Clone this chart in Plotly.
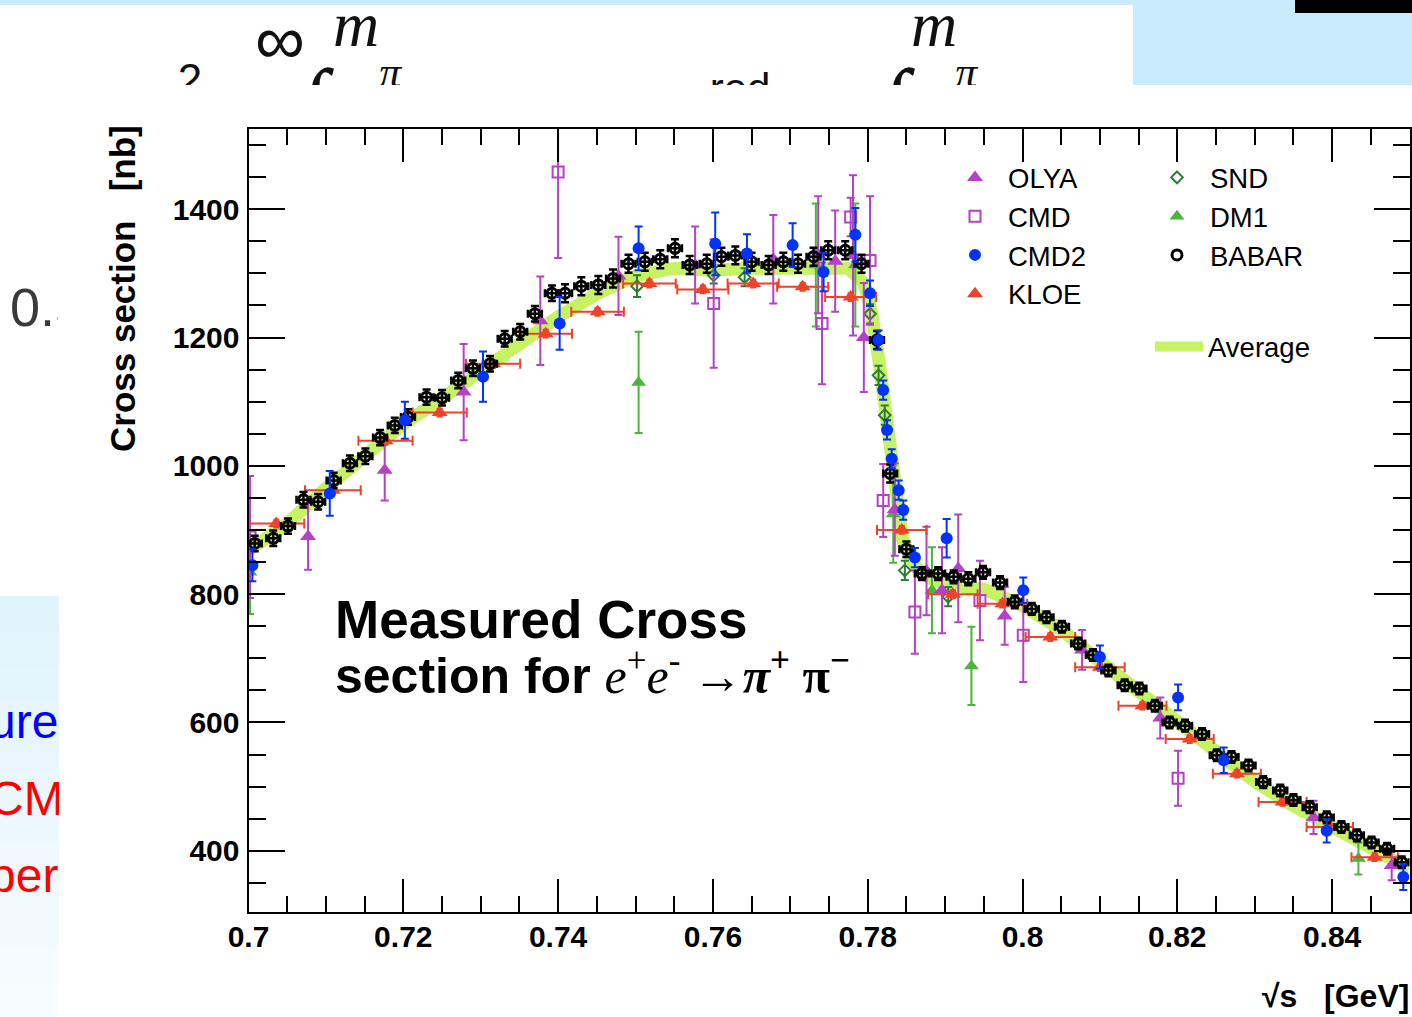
import plotly.graph_objects as go

W, H = 1412, 1017


def fx(px):
    return px / W


def fy(py):
    return 1 - py / H


# ---------------- data ----------------
avg_x = [0.700, 0.705, 0.710, 0.715, 0.720, 0.725, 0.730, 0.735, 0.740, 0.745, 0.750,
         0.755, 0.760, 0.765, 0.770, 0.775, 0.7775, 0.7795, 0.7805, 0.7815, 0.7825,
         0.7835, 0.7845, 0.786, 0.788, 0.790, 0.795, 0.800, 0.805, 0.810, 0.815,
         0.820, 0.825, 0.830, 0.835, 0.840, 0.845, 0.850]
avg_y = [868, 910, 965, 1012, 1065, 1105, 1148, 1192, 1232, 1268, 1296,
         1308, 1305, 1308, 1308, 1312, 1308, 1285, 1240, 1160, 1060,
         960, 885, 845, 825, 815, 808, 782, 745, 695, 648,
         600, 555, 508, 470, 436, 404, 372]

olya_x = [0.7077, 0.7176, 0.7278, 0.7377, 0.7478, 0.7577, 0.7678, 0.7736, 0.7758, 0.7781,
          0.7795, 0.7835, 0.7876, 0.7896, 0.7917, 0.7977, 0.8077, 0.8178, 0.8376, 0.8477]
olya_y = [890, 993, 1115, 1226, 1296, 1313, 1322, 1329, 1319, 1328,
          1200, 932, 836, 806, 840, 766, 713, 607, 452, 377]
olya_err = [52, 47, 75, 69, 61, 60, 69, 91, 79, 125,
            85, 72, 69, 67, 84, 45, 31, 32, 26, 23]

cmd_x = [0.7002, 0.7400, 0.7601, 0.7741, 0.7778, 0.7803, 0.7820, 0.7861, 0.7945, 0.8001, 0.8201]
cmd_y = [889, 1458, 1253, 1222, 1388, 1320, 946, 772, 790, 736, 513]
cmd_err = [95, 134, 100, 95, 30, 100, 57, 65, 62, 73, 43]

cmd2_x = [0.7005, 0.7105, 0.7202, 0.7303, 0.7402, 0.7504, 0.7603, 0.7644, 0.7703, 0.7743,
          0.7784, 0.7803, 0.7814, 0.7820, 0.7825, 0.7831, 0.7840, 0.7846, 0.7861, 0.7902,
          0.8001, 0.8100, 0.8201, 0.8260, 0.8393, 0.8492]
cmd2_y = [845, 957, 1071, 1139, 1222, 1339, 1346, 1331, 1344, 1302,
          1360, 1269, 1196, 1118, 1056, 1011, 962, 931, 857, 887,
          806, 702, 639, 541, 431, 359]
cmd2_err = [25, 35, 29, 39, 41, 34, 49, 30, 34, 30,
            42, 20, 15, 15, 15, 15, 15, 15, 15, 30,
            20, 18, 20, 20, 18, 20]

kloe_x = [0.7036, 0.7109, 0.7177, 0.7247, 0.7316, 0.7384, 0.7451, 0.7518, 0.7587, 0.7652,
          0.7716, 0.7778, 0.7844, 0.7910, 0.7974, 0.8036, 0.8100, 0.8155, 0.8216, 0.8277,
          0.8336, 0.8397, 0.8455]
kloe_y = [910, 962, 1039, 1083, 1159, 1206, 1240, 1284, 1275, 1284,
          1279, 1263, 900, 800, 785, 733, 686, 626, 574, 520,
          476, 437, 390]
kloe_xerr = [0.0036, 0.0036, 0.0035, 0.0035, 0.0035, 0.0034, 0.0034, 0.0034, 0.0033, 0.0033,
             0.0033, 0.0033, 0.0032, 0.0032, 0.0032, 0.0032, 0.0032, 0.0031, 0.0031, 0.0031,
             0.0031, 0.0030, 0.0030]
kloe_yerr = [6, 6, 6, 6, 6, 6, 6, 6, 6, 6,
             6, 6, 6, 6, 6, 6, 6, 6, 6, 6,
             6, 6, 6]

dm1_x = [0.7002, 0.7504, 0.7733, 0.7784, 0.7833, 0.7883, 0.7934, 0.8434]
dm1_y = [834, 1130, 1313, 1313, 925, 806, 688, 388]
dm1_err = [65, 79, 96, 96, 76, 67, 61, 25]

snd_x = [0.7502, 0.7601, 0.7641, 0.7803, 0.7814, 0.7822, 0.7848, 0.7904]
snd_y = [1280, 1297, 1294, 1237, 1141, 1079, 837, 796]
snd_err = [17, 13, 14, 15, 15, 15, 15, 15]

babar_x = [0.7008, 0.7032, 0.7051, 0.7071, 0.7090, 0.7110, 0.7131, 0.7151, 0.7170, 0.7189,
           0.7206, 0.7230, 0.7250, 0.7271, 0.7290, 0.7312, 0.7331, 0.7351, 0.7370, 0.7392,
           0.7409, 0.7430, 0.7452, 0.7471, 0.7491, 0.7512, 0.7532, 0.7551, 0.7570, 0.7592,
           0.7611, 0.7629, 0.7650, 0.7672, 0.7691, 0.7710, 0.7730, 0.7749, 0.7771, 0.7792,
           0.7812, 0.7829, 0.7850, 0.7870, 0.7891, 0.7911, 0.7930, 0.7949, 0.7971, 0.7990,
           0.8012, 0.8031, 0.8051, 0.8072, 0.8091, 0.8111, 0.8132, 0.8151, 0.8171, 0.8190,
           0.8210, 0.8232, 0.8251, 0.8270, 0.8292, 0.8311, 0.8333, 0.8350, 0.8371, 0.8393,
           0.8412, 0.8432, 0.8451, 0.8471, 0.8490]
babar_y = [879, 887, 906, 947, 944, 977, 1004, 1015, 1044, 1063,
           1076, 1107, 1106, 1133, 1152, 1159, 1198, 1209, 1237, 1269,
           1269, 1280, 1282, 1292, 1315, 1318, 1322, 1339, 1313, 1315,
           1326, 1328, 1318, 1313, 1318, 1315, 1326, 1336, 1336, 1315,
           1196, 988, 870, 832, 832, 827, 824, 834, 818, 788,
           777, 764, 749, 723, 705, 681, 658, 653, 626, 600,
           595, 582, 549, 546, 533, 507, 494, 479, 468, 452,
           437, 424, 413, 403, 382]
babar_err = [12, 12, 12, 12, 12, 12, 12, 12, 12, 12,
             12, 12, 12, 12, 12, 12, 12, 12, 12, 12,
             14, 14, 14, 14, 14, 14, 14, 14, 14, 14,
             14, 14, 14, 14, 14, 14, 14, 14, 14, 14,
             14, 14, 12, 10, 10, 10, 10, 10, 10, 10,
             9, 9, 9, 9, 9, 9, 9, 9, 9, 9,
             9, 9, 9, 9, 9, 9, 9, 9, 9, 9,
             9, 9, 9, 9, 9]
babar_xerr = 0.0009

x_ticks = [0.70, 0.72, 0.74, 0.76, 0.78, 0.80, 0.82, 0.84]
x_tick_text = ["0.7", "0.72", "0.74", "0.76", "0.78", "0.8", "0.82", "0.84"]
y_ticks = [400, 600, 800, 1000, 1200, 1400]
y_tick_text = ["400", "600", "800", "1000", "1200", "1400"]

# ---------------- styles ----------------
PURPLE = "#B441C8"
BLUE = "#0033FF"
RED = "#EE4229"
GREEN = "#4CB43C"
DKGREEN = "#2E7D32"
BAND = "#C6F263"
SANS = "Liberation Sans, Arial, sans-serif"
SERIF = "Liberation Serif, Times New Roman, serif"

fig = go.Figure()

# Average band
fig.add_trace(go.Scatter(
    x=avg_x, y=avg_y, mode="lines", name="Average",
    line=dict(color=BAND, width=13), legend="legend3", hoverinfo="skip"))


def ebar(arr, color, width=4, thick=2):
    return dict(type="data", array=arr, color=color, thickness=thick, width=width, visible=True)


fig.add_trace(go.Scatter(
    x=dm1_x, y=dm1_y, mode="markers", name="DM1", legend="legend2", legendrank=2,
    marker=dict(symbol="triangle-up", size=13, color=GREEN),
    error_y=ebar(dm1_err, GREEN)))

fig.add_trace(go.Scatter(
    x=snd_x, y=snd_y, mode="markers", name="SND", legend="legend2", legendrank=1,
    marker=dict(symbol="diamond-open", size=9, color=DKGREEN, line=dict(width=2, color=DKGREEN)),
    error_y=ebar(snd_err, DKGREEN)))

fig.add_trace(go.Scatter(
    x=olya_x, y=olya_y, mode="markers", name="OLYA", legend="legend", legendrank=1,
    marker=dict(symbol="triangle-up", size=14, color=PURPLE),
    error_y=ebar(olya_err, PURPLE)))

fig.add_trace(go.Scatter(
    x=cmd_x, y=cmd_y, mode="markers", name="CMD", legend="legend", legendrank=2,
    marker=dict(symbol="square-open", size=11, color=PURPLE, line=dict(width=2, color=PURPLE)),
    error_y=ebar(cmd_err, PURPLE)))

fig.add_trace(go.Scatter(
    x=kloe_x, y=kloe_y, mode="markers", name="KLOE", legend="legend", legendrank=4,
    marker=dict(symbol="triangle-up", size=14, color=RED),
    error_x=ebar(kloe_xerr, RED, width=5),
    error_y=ebar(kloe_yerr, RED, width=3)))

fig.add_trace(go.Scatter(
    x=babar_x, y=babar_y, mode="markers", name="BABAR", legend="legend2", legendrank=3,
    marker=dict(symbol="circle-open", size=10, color="black", line=dict(width=3, color="black")),
    error_x=dict(type="constant", value=babar_xerr, color="black", thickness=2.5, width=4),
    error_y=ebar(babar_err, "black", width=4, thick=2.5)))

fig.add_trace(go.Scatter(
    x=cmd2_x, y=cmd2_y, mode="markers", name="CMD2", legend="legend", legendrank=3,
    marker=dict(symbol="circle", size=12, color=BLUE),
    error_y=ebar(cmd2_err, BLUE)))

# ---------------- clipped slide remnants (text) ----------------
top_txt = [
    ("2", 190, 84, 44, SANS, "#111111"),
    ("∞", 280, 46, 70, SANS, "#111111"),
    ("∫", 316, 112, 96, SERIF, "#111111"),
    ("<i>m</i>", 356, 30, 64, SERIF, "#111111"),
    ("<i>π</i>", 390, 76, 44, SERIF, "#111111"),
    ("red", 740, 92, 42, SANS, "#111111"),
    ("∫", 897, 112, 96, SERIF, "#111111"),
    ("<i>m</i>", 934, 30, 64, SERIF, "#111111"),
    ("<i>π</i>", 966, 76, 44, SERIF, "#111111"),
]
for t, px, py, sz, fam, col in top_txt:
    fig.add_trace(go.Scatter(
        x=[px], y=[py], mode="text", text=[t], textposition="middle center",
        textfont=dict(size=sz, family=fam, color=col), showlegend=False,
        hoverinfo="skip", xaxis="x2", yaxis="y2", cliponaxis=True))

fig.add_trace(go.Scatter(
    x=[10], y=[312], mode="text", text=["0.5"], textposition="middle right",
    textfont=dict(size=54, family=SANS, color="#3a3a3a"), showlegend=False,
    hoverinfo="skip", xaxis="x3", yaxis="y3", cliponaxis=True))

left_txt = [("ure", 726, "#0000FF"), ("CMD", 803, "#FF0000"), ("per", 880, "#FF0000")]
for t, py, col in left_txt:
    fig.add_trace(go.Scatter(
        x=[-11], y=[py], mode="text", text=[t], textposition="middle right",
        textfont=dict(size=48, family=SANS, color=col), showlegend=False,
        hoverinfo="skip", xaxis="x4", yaxis="y4", cliponaxis=True))

# ---------------- shapes (slide background pieces) ----------------
shapes = [
    dict(type="rect", xref="paper", yref="paper", x0=fx(0), x1=fx(W), y0=fy(5), y1=fy(0),
         fillcolor="#C9EBFC", line=dict(width=0), layer="below"),
    dict(type="rect", xref="paper", yref="paper", x0=fx(1133), x1=fx(W), y0=fy(85), y1=fy(0),
         fillcolor="#C9EBFC", line=dict(width=0), layer="below"),
    dict(type="rect", xref="paper", yref="paper", x0=fx(1295), x1=fx(W), y0=fy(13), y1=fy(0),
         fillcolor="black", line=dict(width=0), layer="below"),
]
c0 = (225, 243, 252)
c1 = (247, 252, 255)
nb = 12
top, bot = 596, 1017
for i in range(nb):
    f = i / (nb - 1)
    col = "rgb(%d,%d,%d)" % tuple(round(a + (b - a) * f) for a, b in zip(c0, c1))
    y0p = top + (bot - top) * i / nb
    y1p = top + (bot - top) * (i + 1) / nb
    shapes.append(dict(type="rect", xref="paper", yref="paper", x0=fx(0), x1=fx(59),
                       y0=fy(y1p + 1), y1=fy(y0p), fillcolor=col, line=dict(width=0), layer="below"))

# ---------------- annotations ----------------
annotations = [
    dict(xref="paper", yref="paper", x=fx(122), y=fy(289), xanchor="center", yanchor="middle",
         text="<b>Cross section   [nb]</b>", textangle=-90, showarrow=False,
         font=dict(family=SANS, size=35, color="black")),
    dict(xref="paper", yref="paper", x=fx(1411), y=fy(996), xanchor="right", yanchor="middle",
         text="<b>√s   [GeV]</b>", showarrow=False,
         font=dict(family=SANS, size=32, color="black")),
    dict(xref="paper", yref="paper", x=fx(333), y=fy(619), xanchor="left", yanchor="middle",
         align="left", showarrow=False,
         text="<b>Measured Cross</b>",
         font=dict(family=SANS, size=53, color="black")),
    dict(xref="paper", yref="paper", x=fx(333), y=fy(672), xanchor="left", yanchor="middle",
         align="left", showarrow=False,
         text=("<b>section for </b>"
               "<span style=\"font-family:Liberation Serif\"><i>e</i><sup>+</sup><i>e</i><sup>-</sup> "
               "<b>→<i>π</i><sup>+</sup> π<sup>−</sup></b></span>"),
         font=dict(family=SANS, size=50, color="black")),
]

axis_common = dict(
    showline=True, linecolor="black", linewidth=2, mirror="allticks",
    ticks="inside", tickwidth=2, tickcolor="black", showgrid=False, zeroline=False,
    tickfont=dict(family=SANS, size=30, color="black", weight="bold"), automargin=False,
)

legend_font = dict(family=SANS, size=27.5, color="black")
hidden = dict(visible=False, fixedrange=True, automargin=False, showgrid=False, zeroline=False)

fig.update_layout(
    width=W, height=H, margin=dict(l=0, r=0, t=0, b=0, pad=0, autoexpand=False),
    paper_bgcolor="white", plot_bgcolor="rgba(0,0,0,0)",
    xaxis=dict(domain=[fx(248.5), fx(1409.5)], range=[0.7, 0.85],
               tickvals=x_ticks, ticktext=x_tick_text, ticklen=33, ticklabelstandoff=-3,
               minor=dict(dtick=0.005, tick0=0.7, ticks="inside", ticklen=16, tickwidth=2,
                          tickcolor="black", showgrid=False),
               **axis_common),
    yaxis=dict(domain=[fy(911.7), fy(129)], range=[305, 1525],
               tickvals=y_ticks, ticktext=y_tick_text, ticklen=36, ticklabelstandoff=1,
               minor=dict(dtick=50, tick0=0, ticks="inside", ticklen=17, tickwidth=2,
                          tickcolor="black", showgrid=False),
               **axis_common),
    xaxis2=dict(domain=[0, fx(1133)], range=[0, 1133], anchor="y2", **hidden),
    yaxis2=dict(domain=[fy(85), fy(5)], range=[85, 5], anchor="x2", **hidden),
    xaxis3=dict(domain=[0, fx(58)], range=[0, 58], anchor="y3", **hidden),
    yaxis3=dict(domain=[fy(345), fy(280)], range=[345, 280], anchor="x3", **hidden),
    xaxis4=dict(domain=[0, fx(59)], range=[0, 59], anchor="y4", **hidden),
    yaxis4=dict(domain=[0, fy(596)], range=[1017, 596], anchor="x4", **hidden),
    legend=dict(x=fx(942), y=fy(153), xanchor="left", yanchor="top", font=legend_font,
                itemwidth=56, bgcolor="rgba(0,0,0,0)", tracegroupgap=0),
    legend2=dict(x=fx(1144), y=fy(153), xanchor="left", yanchor="top", font=legend_font,
                 itemwidth=56, bgcolor="rgba(0,0,0,0)", tracegroupgap=0),
    legend3=dict(x=fx(1150), y=fy(322), xanchor="left", yanchor="top", font=legend_font,
                 itemwidth=48, bgcolor="rgba(0,0,0,0)", tracegroupgap=0),
    shapes=shapes,
    annotations=annotations,
    showlegend=True,
)

fig.write_html("out.html", config={"displayModeBar": False},
               post_script="document.body.style.margin='0px';document.body.style.overflow='hidden';")
